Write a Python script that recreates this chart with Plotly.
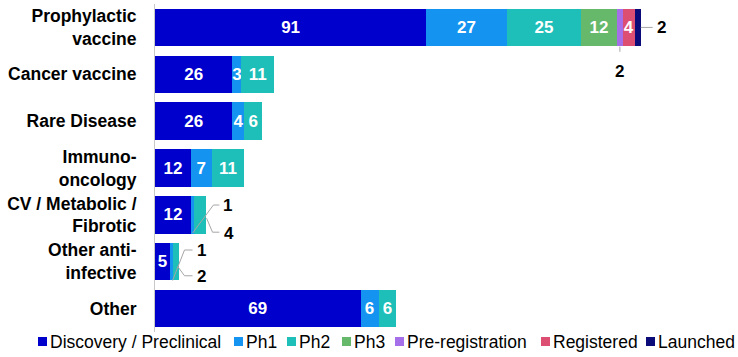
import plotly.graph_objects as go

categories = ["Prophylactic<br>vaccine", "Cancer vaccine", "Rare Disease", "Immuno-<br>oncology",
              "CV / Metabolic /<br>Fibrotic", "Other anti-<br>infective", "Other"]
phases = ["Discovery / Preclinical", "Ph1", "Ph2", "Ph3", "Pre-registration", "Registered", "Launched"]
colors = ["#0000CC", "#1493F0", "#1DBFB8", "#66B86A", "#A46FE8", "#DC4F73", "#0A0A78"]

discovery = [91, 26, 26, 12, 12, 5, 69]
ph1 = [27, 3, 4, 7, 1, 1, 6]
ph2 = [25, 11, 6, 11, 4, 2, 6]
ph3 = [12, 0, 0, 0, 0, 0, 0]
prereg = [2, 0, 0, 0, 0, 0, 0]
registered = [4, 0, 0, 0, 0, 0, 0]
launched = [2, 0, 0, 0, 0, 0, 0]
series = [discovery, ph1, ph2, ph3, prereg, registered, launched]

# (category index, phase index) labelled outside the bar with a leader line
outside = {(0, 4), (0, 6), (4, 1), (4, 2), (5, 1), (5, 2)}

FONT = "Liberation Sans, Arial, sans-serif"
W, H = 738, 357
L, R, T, B = 155, 4, 4, 25
PW, PH = W - L - R, H - T - B

ypos = list(range(len(categories)))
fig = go.Figure()
for k, (name, vals, col) in enumerate(zip(phases, series, colors)):
    txt = [str(v) if (v > 0 and (i, k) not in outside) else "" for i, v in enumerate(vals)]
    fig.add_trace(go.Bar(
        y=ypos, x=vals, name=name, orientation="h",
        marker=dict(color=col, line=dict(width=0)),
        text=txt, textposition="inside", insidetextanchor="middle",
        textfont=dict(color="white", size=17, family=FONT, weight="bold"),
        cliponaxis=False, hoverinfo="x+name", showlegend=False,
    ))


def seg(cat, k):
    start = sum(series[j][cat] for j in range(k))
    return start + series[k][cat] / 2.0, start + series[k][cat]


line_style = dict(color="#A6A6A6", width=1)
callouts = []
m, e = seg(0, 4)
callouts.append(([m, m], [0.41, 0.52], m, 0.95, series[4][0]))
m, e = seg(0, 6)
callouts.append(([e, e + 4.0], [0, 0], e + 6.8, 0.0, series[6][0]))
m, e = seg(4, 1)
callouts.append(([m + 0.1, m + 7.1, m + 9.1], [4.39, 3.79, 3.79], m + 11.8, 3.79, series[1][4]))
m, e = seg(4, 2)
callouts.append(([m + 2.3, m + 4.3, m + 6.6], [4.07, 4.37, 4.37], m + 9.7, 4.39, series[2][4]))
m, e = seg(5, 1)
callouts.append(([m + 0.4, m + 4.4, m + 7.1], [5.40, 4.75, 4.75], m + 10.1, 4.75, series[1][5]))
m, e = seg(5, 2)
callouts.append(([m + 0.6, m + 2.9, m + 5.6], [5.10, 5.30, 5.30], m + 8.6, 5.31, series[2][5]))

for xs, ys, tx, ty, v in callouts:
    fig.add_trace(go.Scatter(x=xs, y=ys, mode="lines", line=line_style,
                             showlegend=False, hoverinfo="skip", cliponaxis=False))
    fig.add_annotation(x=tx, y=ty, text=str(v), showarrow=False,
                       font=dict(size=17, color="black", family=FONT, weight="bold"))

# custom compact legend (pixel layout positions of the marker squares)
legend_px = [38, 234, 287, 342, 395, 541, 646]
legend_cy = 341.5
sq = 9


def px2x(px):
    return (px - L) / PW


def py2y(py):
    return (H - B - py) / PH


for name, col, px in zip(phases, colors, legend_px):
    fig.add_shape(type="rect", xref="paper", yref="paper",
                  x0=px2x(px), x1=px2x(px + sq), y0=py2y(legend_cy + sq / 2), y1=py2y(legend_cy - sq / 2),
                  fillcolor=col, line=dict(width=0))
    fig.add_annotation(xref="paper", yref="paper", x=px2x(px + sq + 1), y=py2y(legend_cy + 0.5),
                       xanchor="left", yanchor="middle", text=name, showarrow=False,
                       font=dict(size=17.5, color="black", family=FONT))

fig.update_layout(
    width=W, height=H,
    margin=dict(l=L, r=R, t=T, b=B, autoexpand=False),
    plot_bgcolor="white", paper_bgcolor="white",
    barmode="stack", bargap=0.2,
    font=dict(family=FONT, color="black"),
    showlegend=False,
    uniformtext=dict(minsize=17, mode="show"),
)
fig.update_xaxes(range=[0, PW / 2.98], showticklabels=False, showgrid=False, zeroline=False,
                 showline=False, ticks="")
fig.update_yaxes(tickvals=ypos, ticktext=categories, range=[6.5, -0.5],
                 showgrid=False, zeroline=False, showline=True, linecolor="#C8C8C8",
                 linewidth=1, ticks="", ticklabelstandoff=14,
                 tickfont=dict(size=17.5, color="black", family=FONT, weight="bold"))

fig.write_html("out.html")
